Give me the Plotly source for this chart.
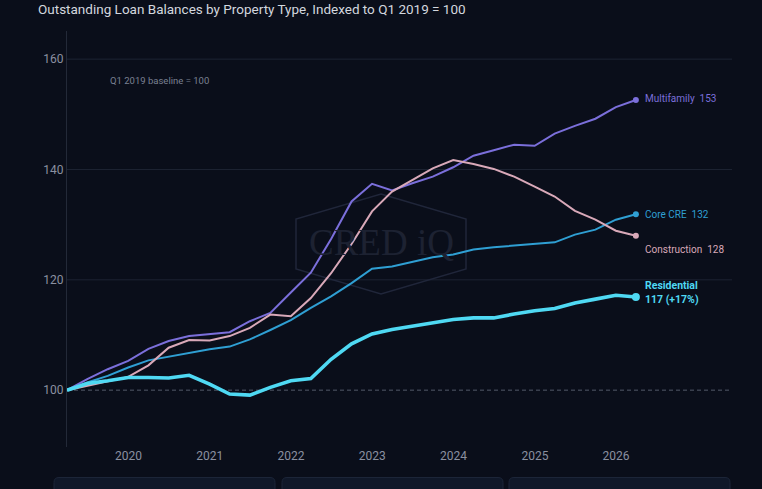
import plotly.graph_objects as go

# ---------------- data ----------------
quarters = [
    "2019-03-31", "2019-06-30", "2019-09-30", "2019-12-31",
    "2020-03-31", "2020-06-30", "2020-09-30", "2020-12-31",
    "2021-03-31", "2021-06-30", "2021-09-30", "2021-12-31",
    "2022-03-31", "2022-06-30", "2022-09-30", "2022-12-31",
    "2023-03-31", "2023-06-30", "2023-09-30", "2023-12-31",
    "2024-03-31", "2024-06-30", "2024-09-30", "2024-12-31",
    "2025-03-31", "2025-06-30", "2025-09-30", "2025-12-31",
    "2026-03-31",
]
multifamily = [100, 102.0, 103.8, 105.3, 107.5, 108.9, 109.8, 110.1, 110.5, 112.5,
               114.0, 117.7, 121.3, 127.4, 134.2, 137.4, 136.2, 137.5, 138.7, 140.4,
               142.5, 143.5, 144.5, 144.3, 146.5, 147.9, 149.2, 151.3, 152.6]
core_cre = [100, 101.4, 102.6, 104.1, 105.4, 106.1, 106.7, 107.4, 107.9, 109.2,
            110.9, 112.7, 114.9, 117.0, 119.4, 122.0, 122.4, 123.3, 124.1, 124.6,
            125.5, 125.9, 126.2, 126.4, 126.8, 128.2, 129.1, 130.9, 131.9]
construction = [100, 100.8, 101.6, 102.4, 104.5, 107.7, 109.1, 109.0, 109.8, 111.3,
                113.7, 113.4, 116.7, 121.2, 126.5, 132.4, 136.0, 138.1, 140.2, 141.7,
                141.0, 140.1, 138.7, 136.9, 135.1, 132.5, 130.9, 128.9, 128.0]
residential = [100, 101.2, 101.7, 102.3, 102.3, 102.2, 102.7, 101.1, 99.3, 99.1,
               100.5, 101.7, 102.1, 105.6, 108.4, 110.2, 111.0, 111.6, 112.2, 112.8,
               113.1, 113.1, 113.8, 114.4, 114.8, 115.8, 116.5, 117.2, 116.9]

year_ticks = ["2020-01-01", "2021-01-01", "2022-01-01", "2023-01-01",
              "2024-01-01", "2025-01-01", "2026-01-01"]
year_labels = ["2020", "2021", "2022", "2023", "2024", "2025", "2026"]
y_ticks = [100, 120, 140, 160]
grid_vals = [120, 140, 160]
baseline = 100

series = [
    ("Multifamily", multifamily, "#7b6fdb", 2.0, 6, "Multifamily  153", 1),
    ("Core CRE", core_cre, "#2f9fd3", 2.0, 6, "Core CRE  132", 0),
    ("Construction", construction, "#d9a9b9", 2.0, 6, "Construction  128", -14),
    ("Residential", residential, "#4fd9f3", 3.6, 8, "<b>Residential<br>117 (+17%)</b>", 4),
]

# ---------------- geometry helpers (pixel -> paper) ----------------
W, H = 762, 489
L, R, T, B = 67, 732, 31, 447


def pxx(x):
    return (x - L) / (R - L)


def pxy(y):
    return (B - y) / (B - T)


def rounded_rect(x0, y0, x1, y1, r=4):
    rx = r / (R - L)
    ry = r / (B - T)
    X0, X1 = pxx(x0), pxx(x1)
    Y0, Y1 = pxy(y0), pxy(y1)  # Y0 top, Y1 bottom
    return (f"M {X0+rx},{Y0} L {X1-rx},{Y0} Q {X1},{Y0} {X1},{Y0-ry} "
            f"L {X1},{Y1+ry} Q {X1},{Y1} {X1-rx},{Y1} L {X0+rx},{Y1} "
            f"Q {X0},{Y1} {X0},{Y1+ry} L {X0},{Y0-ry} Q {X0},{Y0} {X0+rx},{Y0} Z")


fig = go.Figure()

for name, vals, color, width, msize, label, yshift in series:
    fig.add_trace(go.Scatter(
        x=quarters, y=vals, mode="lines", name=name,
        line=dict(color=color, width=width), hoverinfo="skip", showlegend=False))
    fig.add_trace(go.Scatter(
        x=[quarters[-1]], y=[vals[-1]], mode="markers",
        marker=dict(color=color, size=msize), hoverinfo="skip", showlegend=False))
    fig.add_annotation(
        x=quarters[-1], y=vals[-1], xref="x", yref="y", text=label,
        showarrow=False, xanchor="left", yanchor="middle", xshift=7, yshift=yshift,
        align="left",
        font=dict(family="Roboto", size=10.5 if name == "Residential" else 10, color=color))

shapes = []
# gridlines
for g in grid_vals:
    shapes.append(dict(type="line", xref="paper", yref="y", x0=0, x1=1, y0=g, y1=g,
                       line=dict(color="#1d2333", width=1), layer="below"))
# baseline dashed
shapes.append(dict(type="line", xref="paper", yref="y", x0=0, x1=1, y0=baseline, y1=baseline,
                   line=dict(color="#535a6a", width=1, dash="4px,3px"), layer="below"))

# watermark hexagon
hexpts = [(381, 194), (466, 219), (466, 269), (381, 294), (296, 269), (296, 219)]
path = "M " + " L ".join(f"{pxx(a)},{pxy(b)}" for a, b in hexpts) + " Z"
shapes.append(dict(type="path", xref="paper", yref="paper", path=path,
                   line=dict(color="#20263a", width=1.5), layer="below"))

# bottom cards
for x0, x1 in [(54, 275), (282, 503), (509, 730)]:
    shapes.append(dict(type="path", xref="paper", yref="paper",
                       path=rounded_rect(x0, 477.5, x1, 540, 5),
                       fillcolor="#101829", line=dict(color="#1c2538", width=1)))

fig.update_layout(shapes=shapes)

# watermark text
fig.add_annotation(xref="paper", yref="paper", x=pxx(381), y=pxy(242), text="CRED iQ",
                   showarrow=False, xanchor="center", yanchor="middle",
                   font=dict(family="Liberation Serif", size=37, color="#1d2232"))

# baseline note
fig.add_annotation(xref="paper", yref="paper", x=pxx(108), y=pxy(80),
                   text="Q1 2019 baseline = 100", showarrow=False,
                   xanchor="left", yanchor="middle",
                   font=dict(family="Roboto", size=9.5, color="#7a8192"))

fig.update_layout(
    width=W, height=H, autosize=False,
    paper_bgcolor="#0a0e1a", plot_bgcolor="#0a0e1a",
    margin=dict(l=L, r=W - R, t=T, b=H - B, pad=0),
    title=dict(text="Outstanding Loan Balances by Property Type, Indexed to Q1 2019 = 100",
               xref="container", yref="container", x=38 / W, xanchor="left",
               y=1 - 9 / H, yanchor="middle",
               font=dict(family="Roboto", size=13.5, color="#d3d7df")),
    font=dict(family="Roboto", color="#8a90a0"),
    xaxis=dict(type="date", range=["2019-03-31", "2027-06-06"], showgrid=False,
               zeroline=False, showline=False, tickvals=year_ticks, ticktext=year_labels,
               ticks="", tickfont=dict(size=12, color="#8a90a0")),
    yaxis=dict(range=[89.7, 165.1], showgrid=False, zeroline=False, showline=True,
               linecolor="#232938", linewidth=1, tickvals=y_ticks, ticks="",
               tickfont=dict(size=12, color="#8a90a0")),
)

fig.write_html("out.html")
